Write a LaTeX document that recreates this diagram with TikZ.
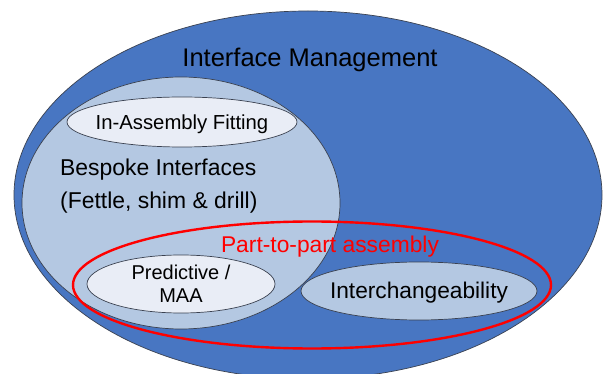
\documentclass[tikz,border=0pt]{standalone}
\usepackage{fontspec}
\setmainfont{Liberation Sans}
\usepackage{tikz}
\usetikzlibrary{positioning}
\usetikzlibrary{shapes.geometric}

\definecolor{mgmtblue}{HTML}{4876C2}
\definecolor{paleblue}{HTML}{B4C8E2}
\definecolor{mistblue}{HTML}{E9EDF6}
\definecolor{rimgray}{HTML}{3A4150}

\tikzset{
    blob/.style={ellipse, draw=rimgray, line width=0.7pt, inner sep=0pt, outer sep=0pt},
    lbl/.style={inner sep=0pt, text=black},
}

\begin{document}
\begin{tikzpicture}[x=1pt, y=-1pt]
    \useasboundingbox (0,0) rectangle (608,374);
    \begin{scope}
        \clip (0,0) rectangle (608,374);
        \node[blob, fill=mgmtblue, minimum width=588pt, minimum height=368pt] (mgmt) at (308,195) {};
    \end{scope}
    \node[blob, fill=paleblue, minimum width=318pt, minimum height=252pt] (bespoke) at (181,203) {};
    \node[blob, fill=mistblue, minimum width=230pt, minimum height=50pt] (fitting) at (182,122) {};
    \node[blob, fill=mistblue, minimum width=188pt, minimum height=58pt] (maa) at (181,284) {};
    \node[blob, fill=paleblue, minimum width=236pt, minimum height=58pt] (interch) at (419,291) {};
    \node[ellipse, draw=red, line width=2.4pt, inner sep=0pt, minimum width=478pt, minimum height=127pt] (p2p) at (312,285) {};

    \node[lbl, font=\fontsize{25.5}{30}\selectfont] (mgmtlbl) at (310,60) {Interface Management};
    \node[lbl, font=\fontsize{20.3}{24}\selectfont] (fitlbl) at (182,124) {In-Assembly Fitting};
    \node[lbl, font=\fontsize{22.9}{27}\selectfont, anchor=west] (bespklbl) at (60,170) {Bespoke Interfaces};
    \node[lbl, font=\fontsize{22.9}{27}\selectfont, anchor=west] (fettlelbl) at (60,203) {(Fettle, shim \& drill)};
    \node[lbl, font=\fontsize{22.8}{27}\selectfont, text=red] (p2plbl) at (330,247) {Part-to-part assembly};
    \node[lbl, font=\fontsize{20}{23}\selectfont, align=center] (maalbl) at (181,284) {Predictive /\\MAA};
    \node[lbl, font=\fontsize{22.7}{27}\selectfont] (interlbl) at (419,293) {Interchangeability};
\end{tikzpicture}
\end{document}
